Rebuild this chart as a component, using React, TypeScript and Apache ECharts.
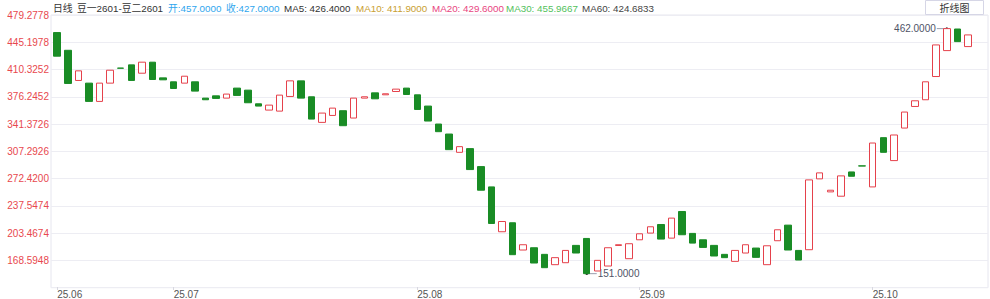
import React, { useEffect, useRef } from 'react';
import * as echarts from 'echarts';

// ---- data ----
const dates = [
  '25.06.16','25.06.17','25.06.18','25.06.19','25.06.20','25.06.23','25.06.24','25.06.25','25.06.26','25.06.27','25.06.30',
  '25.07.01','25.07.02','25.07.03','25.07.04','25.07.07','25.07.08','25.07.09','25.07.10','25.07.11','25.07.14','25.07.15','25.07.16','25.07.17','25.07.18','25.07.21','25.07.22','25.07.23','25.07.24','25.07.25','25.07.28','25.07.29','25.07.30','25.07.31',
  '25.08.01','25.08.04','25.08.05','25.08.06','25.08.07','25.08.08','25.08.11','25.08.12','25.08.13','25.08.14','25.08.15','25.08.18','25.08.19','25.08.20','25.08.21','25.08.22','25.08.25','25.08.26','25.08.27','25.08.28','25.08.29',
  '25.09.01','25.09.02','25.09.03','25.09.04','25.09.05','25.09.08','25.09.09','25.09.10','25.09.11','25.09.12','25.09.15','25.09.16','25.09.17','25.09.18','25.09.19','25.09.22','25.09.23','25.09.24','25.09.25','25.09.26','25.09.29','25.09.30',
  '25.10.09','25.10.10','25.10.13','25.10.14','25.10.15','25.10.16','25.10.17','25.10.20','25.10.21','25.10.22'
];

const opens = [
  457.0, 434.5, 396.2, 392.8, 369.6, 392.8, 411.9, 416.0, 405.4, 419.4, 399.5,
  394.5, 392.8, 394.5, 373.8, 376.7, 373.8, 386.5, 383.9, 366.6, 358.6, 357.3, 375.9, 395.7, 375.5, 343.0, 351.8, 357.8, 348.5, 373.8, 380.5, 378.0, 382.2, 386.5,
  378.0, 363.7, 340.9, 328.2, 305.0, 309.7, 286.9, 261.1, 204.2, 215.6, 181.0, 183.9, 175.5, 162.4, 164.9, 186.9, 195.7, 154.4, 160.7, 186.8, 170.0,
  194.0, 202.5, 213.4, 196.1, 229.9, 202.1, 194.0, 186.9, 175.5, 166.6, 177.2, 183.5, 162.4, 192.8, 212.6, 180.5, 181.4, 271.3, 254.8, 249.3, 280.1, 287.8,
  261.1, 323.6, 294.5, 335.8, 363.2, 371.7, 401.2, 434.1, 461.5, 439.2
];

const closes = [
  427.0, 392.4, 408.4, 369.6, 392.8, 409.2, 411.7, 396.2, 419.4, 397.4, 397.0,
  386.0, 401.6, 382.7, 371.7, 373.4, 378.9, 377.2, 367.9, 363.7, 364.9, 377.6, 395.7, 373.8, 347.2, 354.8, 361.1, 338.8, 373.8, 375.5, 372.9, 379.3, 385.2, 378.4,
  359.4, 344.7, 331.2, 308.4, 312.2, 283.1, 256.9, 214.7, 217.2, 175.1, 187.7, 164.5, 158.6, 171.3, 180.5, 177.2, 151.0, 167.9, 183.9, 187.7, 189.0,
  201.6, 210.5, 194.9, 221.5, 200.4, 189.8, 184.3, 173.4, 171.3, 180.5, 187.7, 171.7, 186.4, 206.7, 181.0, 168.3, 270.0, 278.9, 256.9, 275.1, 274.6, 287.6,
  316.8, 305.0, 327.0, 356.1, 370.4, 394.5, 441.3, 462.0, 445.5, 454.0
];

const yTickLabels = ['479.2778', '445.1978', '410.3252', '376.2452', '341.3726', '307.2926', '272.4200', '237.5474', '203.4674', '168.5948'];
const priceTop = 479.2778;
const priceBottom = 134.0745;

// extreme markers: [category index, value, text on left (1) / right (0)]
const extremeIndex = [84, 50];
const extremeValue = [462.0, 151.0];
const extremeTextLeft = [1, 0];

const headerTexts = ['日线', '豆一2601-豆二2601', '开:457.0000', '收:427.0000', 'MA5: 426.4000', 'MA10: 411.9000', 'MA20: 429.6000', 'MA30: 455.9667', 'MA60: 424.6833'];
const headerColors = ['#333333', '#333333', '#2fa6ee', '#2fa6ee', '#333333', '#c9a032', '#e8457f', '#52c15c', '#444444'];
const headerX = [53, 77, 168, 226, 284, 356, 432, 506, 582];

const FONT = '"Liberation Sans", Arial, "Noto Sans CJK SC", sans-serif';

const isMonthStart = (i: number) => i === 0 || dates[i].slice(0, 5) !== dates[i - 1].slice(0, 5);

export default function App() {
  const ref = useRef<HTMLDivElement>(null);

  useEffect(() => {
    if (!ref.current) return;
    const chart = echarts.init(ref.current, undefined, { renderer: 'svg' });

    const candleData = opens.map((o, i) => {
      const c = closes[i];
      return [o, c, Math.min(o, c), Math.max(o, c)];
    });

    const markerData = extremeIndex.map((idx, i) => [idx, extremeValue[i], extremeTextLeft[i]]);

    const graphics: any[] = headerTexts.map((t, i) => ({
      type: 'text',
      x: headerX[i],
      y: 8,
      silent: true,
      style: {
        text: t,
        fill: headerColors[i],
        font: `9.8px ${FONT}`,
        verticalAlign: 'middle',
        align: 'left',
      },
    }));
    graphics.push({
      type: 'rect',
      shape: { x: 925.5, y: 0.5, width: 58, height: 14 },
      style: { fill: '#ffffff', stroke: '#d6d6e6', lineWidth: 1 },
    });
    graphics.push({
      type: 'text',
      x: 954.5,
      y: 8,
      style: {
        text: '折线图',
        fill: '#333333',
        font: `10px ${FONT}`,
        align: 'center',
        verticalAlign: 'middle',
      },
    });

    chart.setOption({
      animation: false,
      backgroundColor: '#ffffff',
      textStyle: { fontFamily: FONT },
      grid: [
        { left: 51, right: 2, top: 15, bottom: 11.3, show: true, borderColor: '#e6e6ef', borderWidth: 1, backgroundColor: 'transparent' },
        { left: 57.2, right: 22, top: 15, bottom: 11.3 },
      ],
      xAxis: [
        { gridIndex: 0, type: 'value', min: 0, max: 1, show: false },
        {
          gridIndex: 1,
          type: 'category',
          data: dates,
          boundaryGap: false,
          axisLine: { show: false },
          axisTick: { show: true, interval: (i: number) => isMonthStart(i), length: 3, lineStyle: { color: '#d8d8e0' } },
          axisLabel: {
            interval: (i: number) => isMonthStart(i),
            formatter: (v: string) => v.slice(0, 5),
            align: 'left',
            color: '#555555',
            fontSize: 10,
            fontFamily: FONT,
            margin: 2,
          },
          splitLine: { show: false },
        },
      ],
      yAxis: [
        {
          gridIndex: 0,
          type: 'value',
          min: 0,
          max: 10,
          interval: 1,
          axisLine: { show: false },
          axisTick: { show: false },
          axisLabel: {
            formatter: (v: number) => (v >= 1 ? yTickLabels[10 - Math.round(v)] : ''),
            color: '#e8484e',
            fontSize: 10,
            fontFamily: FONT,
            margin: 2,
          },
          splitLine: { show: true, lineStyle: { color: '#ededf3', width: 1 } },
        },
        { gridIndex: 1, type: 'value', min: priceBottom, max: priceTop, show: false, splitLine: { show: false } },
      ],
      series: [
        {
          type: 'candlestick',
          xAxisIndex: 1,
          yAxisIndex: 1,
          data: candleData,
          barWidth: 7,
          itemStyle: {
            color: '#ffffff',
            borderColor: '#e5414b',
            color0: '#198c25',
            borderColor0: '#198c25',
            borderWidth: 1,
          },
        },
        {
          type: 'custom',
          xAxisIndex: 1,
          yAxisIndex: 1,
          data: markerData,
          silent: true,
          renderItem: (params: any, api: any) => {
            const p = api.coord([api.value(0), api.value(1)]);
            const dir = api.value(2) === 1 ? -1 : 1;
            const end = p[0] + dir * 10;
            const label = extremeValue[params.dataIndex].toFixed(4);
            return {
              type: 'group',
              children: [
                { type: 'line', shape: { x1: p[0], y1: p[1], x2: end, y2: p[1] }, style: { stroke: '#9a9eae', lineWidth: 1 } },
                { type: 'circle', shape: { cx: p[0], cy: p[1], r: 1.3 }, style: { fill: '#333333' } },
                {
                  type: 'text',
                  x: end + dir * 1,
                  y: p[1],
                  style: { text: label, fill: '#4e5366', font: `10px ${FONT}`, align: dir < 0 ? 'right' : 'left', verticalAlign: 'middle' },
                },
              ],
            };
          },
        },
      ],
      graphic: graphics,
    });

    return () => chart.dispose();
  }, []);

  return <div ref={ref} style={{ position: 'fixed', left: 0, top: 0, width: 990, height: 299 }} />;
}
